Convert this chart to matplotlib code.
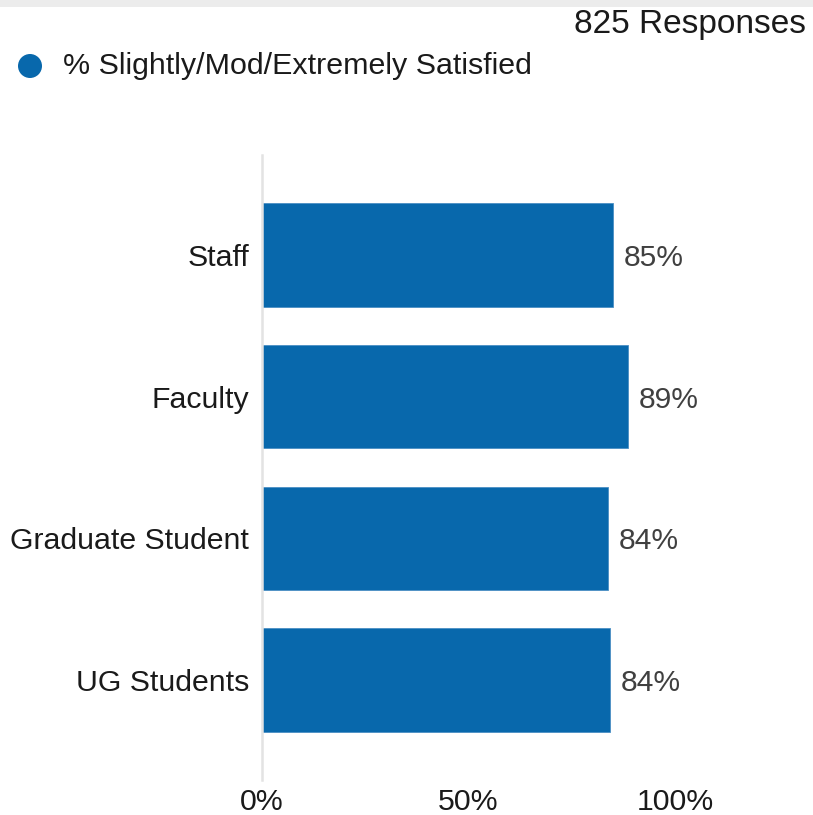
import matplotlib
matplotlib.use('Agg')
import matplotlib.pyplot as plt
from matplotlib.patches import Rectangle, Ellipse

categories = ['Staff', 'Faculty', 'Graduate Student', 'UG Students']
satisfied_pct = [85.0, 88.6, 83.8, 84.3]
value_labels = ['85%', '89%', '84%', '84%']
x_ticks = [0, 50, 100]
x_tick_labels = ['0%', '50%', '100%']
legend_label = '% Slightly/Mod/Extremely Satisfied'
responses_label = '825 Responses'

BAR_COLOR = '#0868ac'
FONT = ['Liberation Sans', 'DejaVu Sans']


def main():
    plt.rcParams['font.family'] = FONT
    W, H = 813, 815
    fig = plt.figure(figsize=(W / 100, H / 100), dpi=100)

    # grey band along the top edge
    fig.patches.append(Rectangle((0, 1 - 7 / H), 1, 7 / H, transform=fig.transFigure,
                                 facecolor='#ececec', edgecolor='none'))

    ax = fig.add_axes([262 / W, 1 - 780 / H, 413 / W, 625 / H])
    ypos = list(range(len(categories)))
    ax.barh(ypos, satisfied_pct, height=0.73, color=BAR_COLOR, edgecolor='#4a8fc4', linewidth=0.6)

    for y, v, lab in zip(ypos, satisfied_pct, value_labels):
        ax.annotate(lab, (v, y), xytext=(7.5, 0), textcoords='offset points',
                    va='center_baseline', ha='left', fontsize=21.6, color='#404040')

    ax.set_xlim(0, 100)
    ax.set_ylim(3.705, -0.706)
    ax.set_yticks(ypos)
    ax.set_yticklabels(categories, fontsize=21.8, color='#1a1a1a')
    ax.set_xticks(x_ticks)
    ax.set_xticklabels(x_tick_labels, fontsize=21.8, color='#1a1a1a')
    ax.tick_params(axis='y', length=0, pad=9.4)
    ax.tick_params(axis='x', length=0, pad=6)

    for side in ('top', 'right', 'bottom'):
        ax.spines[side].set_visible(False)
    ax.spines['left'].set_color('#e3e3e3')
    ax.spines['left'].set_linewidth(1.8)

    # legend and response count
    fig.patches.append(Ellipse((30 / W, 1 - 66 / H), 24 / W, 24 / H, transform=fig.transFigure,
                               facecolor=BAR_COLOR, edgecolor='none'))
    fig.text(63 / W, 1 - 66 / H, legend_label, fontsize=21.9, color='#1a1a1a',
             ha='left', va='center')
    fig.text(806 / W, 1 - 25 / H, responses_label, fontsize=24, color='#1a1a1a',
             ha='right', va='center')

    fig.savefig('out.png', dpi=100)


if __name__ == '__main__':
    main()
